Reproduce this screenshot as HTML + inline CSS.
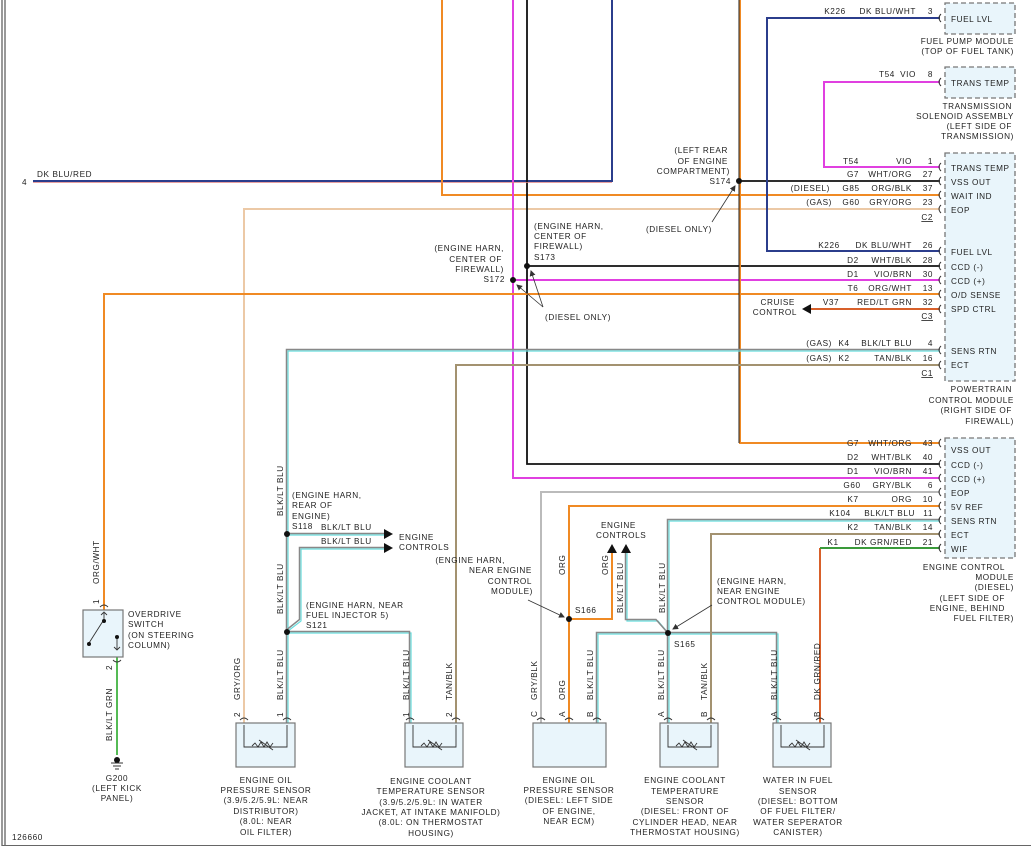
<!DOCTYPE html>
<html><head><meta charset="utf-8"><style>
html,body{margin:0;padding:0;background:#fff}
svg{display:block}
text{font-family:"Liberation Sans",sans-serif;font-size:8.2px;fill:#222;letter-spacing:0.6px}
.r{text-anchor:end}.m{text-anchor:middle}
</style></head><body>
<svg width="1031" height="848" viewBox="0 0 1031 848" xmlns="http://www.w3.org/2000/svg">
<defs>
<marker id="as" markerWidth="6" markerHeight="6" refX="5" refY="3" orient="auto" markerUnits="userSpaceOnUse"><path d="M0,0 L6,3 L0,6 z" fill="#333"/></marker>
</defs>
<line x1="2" y1="0" x2="2" y2="846" stroke="#333" stroke-width="1"/>
<line x1="5" y1="0" x2="5" y2="846" stroke="#333" stroke-width="1"/>
<line x1="2" y1="845.5" x2="1031" y2="845.5" stroke="#666" stroke-width="1"/>

<g fill="#e9f5fb" stroke="#777" stroke-width="1.3" stroke-dasharray="5,3">
<rect x="945" y="3" width="70" height="31"/>
<rect x="945" y="67" width="70" height="31"/>
<rect x="945" y="153" width="70" height="228"/>
<rect x="945" y="438" width="70" height="120"/>
</g>

<g fill="none" stroke-width="2">
<polyline points="33,181 612,181 612,0" stroke="#2b3d8c"/>
<polyline points="442,0 442,195 940,195" stroke="#f08a24"/>
<polyline points="244,723 244,209 940,209" stroke="#ecc9a6"/>
<polyline points="513,0 513,478 940,478" stroke="#e040e0"/>
<line x1="513" y1="280" x2="940" y2="280" stroke="#e040e0"/>
<polyline points="527,0 527,464 940,464" stroke="#111" stroke-width="1.8"/>
<line x1="527" y1="266" x2="940" y2="266" stroke="#111" stroke-width="1.8"/>
<polyline points="104,610 104,294 940,294" stroke="#f08a24"/>
<polyline points="740,0 740,443 940,443" stroke="#f08a24"/>
<line x1="739" y1="0" x2="739" y2="443" stroke="#222" stroke-width="1"/>
<line x1="740" y1="181" x2="940" y2="181" stroke="#111" stroke-width="1.8"/>
<polyline points="940,18 767,18 767,251 940,251" stroke="#2b3d8c"/>
<polyline points="940,82 824,82 824,167 940,167" stroke="#e040e0"/>
<line x1="808" y1="309" x2="940" y2="309" stroke="#d8602a"/>
<!-- gray/teal wires -->
<g stroke="#6dd" stroke-width="1.2">
<polyline points="288,723 288,351 940,351"/>
<polyline points="288,535 384,535"/>
<polyline points="288,631 301,621 301,549 384,549"/>
<polyline points="288,633 411,633 411,723"/>
<polyline points="669,723 669,521 940,521"/>
<polyline points="669,634 658,621 627,621 627,552"/>
<polyline points="598,723 598,634 778,634 778,723"/>
</g>
<g stroke="#888" stroke-width="1.5">
<polyline points="286.5,723 286.5,349.5 940,349.5"/>
<polyline points="287,533.5 384,533.5"/>
<polyline points="287,629.5 299.5,619.5 299.5,547.5 384,547.5"/>
<polyline points="287,631.5 409.5,631.5 409.5,723"/>
<polyline points="667.5,723 667.5,519.5 940,519.5"/>
<polyline points="667,632 656,619.5 625.5,619.5 625.5,552"/>
<polyline points="596.5,723 596.5,632.5 776.5,632.5 776.5,723"/>
</g>
<polyline points="456,723 456,365 940,365" stroke="#a39270"/>
<polyline points="541,723 541,492 940,492" stroke="#bbb"/>
<polyline points="569,723 569,506 940,506" stroke="#f08a24"/>
<polyline points="569,619 612,619 612,552" stroke="#f08a24"/>
<polyline points="711,723 711,534 940,534" stroke="#a39270"/>
<polyline points="820,723 820,548" stroke="#d8602a"/>
<line x1="820" y1="548" x2="940" y2="548" stroke="#3a9a3a"/>
<line x1="117" y1="657" x2="117" y2="755" stroke="#5b5"/>
</g>
<line x1="33" y1="182.5" x2="612" y2="182.5" stroke="#e08080" stroke-width="0.7"/>

<polygon points="384,529 393,534 384,539" fill="#111"/>
<polygon points="384,543 393,548 384,553" fill="#111"/>
<polygon points="607,553 612,544 617,553" fill="#111"/>
<polygon points="621,553 626,544 631,553" fill="#111"/>
<polygon points="811,304 802,309 811,314" fill="#111"/>

<g fill="none" stroke="#333" stroke-width="1">
<path d="M941,14 q-4,4 0,8"/><path d="M941,78 q-4,4 0,8"/>
<path d="M941,163 q-4,4 0,8"/><path d="M941,177 q-4,4 0,8"/><path d="M941,191 q-4,4 0,8"/><path d="M941,205 q-4,4 0,8"/>
<path d="M941,247 q-4,4 0,8"/><path d="M941,262 q-4,4 0,8"/><path d="M941,276 q-4,4 0,8"/><path d="M941,290 q-4,4 0,8"/><path d="M941,305 q-4,4 0,8"/>
<path d="M941,346 q-4,4 0,8"/><path d="M941,361 q-4,4 0,8"/>
<path d="M941,439 q-4,4 0,8"/><path d="M941,460 q-4,4 0,8"/><path d="M941,474 q-4,4 0,8"/><path d="M941,488 q-4,4 0,8"/><path d="M941,502 q-4,4 0,8"/><path d="M941,516 q-4,4 0,8"/><path d="M941,530 q-4,4 0,8"/><path d="M941,544 q-4,4 0,8"/>
</g>

<g fill="#111">
<circle cx="527" cy="266" r="3"/><circle cx="513" cy="280" r="3"/><circle cx="739" cy="181" r="3"/>
<circle cx="287" cy="534" r="3"/><circle cx="287" cy="632" r="3"/>
<circle cx="569" cy="619" r="3"/><circle cx="668" cy="633" r="3"/>
</g>
<g stroke="#333" stroke-width="0.8" fill="none">
<line x1="543" y1="307" x2="517" y2="285" marker-end="url(#as)"/>
<line x1="543" y1="307" x2="531" y2="271" marker-end="url(#as)"/>
<line x1="712" y1="222" x2="735" y2="186" marker-end="url(#as)"/>
<line x1="528" y1="600" x2="564" y2="617" marker-end="url(#as)"/>
<line x1="712" y1="605" x2="673" y2="629" marker-end="url(#as)"/>
</g>

<g fill="#e9f5fb" stroke="#777" stroke-width="1.2">
<rect x="83" y="610" width="40" height="47"/>
<rect x="236" y="723" width="59" height="44"/>
<rect x="405" y="723" width="58" height="44"/>
<rect x="533" y="723" width="73" height="44"/>
<rect x="660" y="723" width="58" height="44"/>
<rect x="773" y="723" width="58" height="44"/>
</g>
<g fill="none" stroke="#333" stroke-width="0.9">
<path d="M244,725 v22 h43 v-22"/><path d="M252,746 l3,-3 l3,4 l3,-5 l3,5 l3,-5 l3,5 l3,-4 M259,740 l14,10"/>
<path d="M413,725 v22 h43 v-22"/><path d="M421,746 l3,-3 l3,4 l3,-5 l3,5 l3,-5 l3,5 l3,-4 M428,740 l14,10"/>
<path d="M668,725 v22 h43 v-22"/><path d="M676,746 l3,-3 l3,4 l3,-5 l3,5 l3,-5 l3,5 l3,-4 M683,740 l14,10"/>
<path d="M781,725 v22 h43 v-22"/><path d="M789,746 l3,-3 l3,4 l3,-5 l3,5 l3,-5 l3,5 l3,-4 M796,740 l14,10"/>
<path d="M104,613 v8 M101,615 l3,-3 l3,3 M103,621 l-14,22 M117,638 v12 M114,647 l3,3 l3,-3"/>
<path d="M240,720 q4,-4 8,0 M283,720 q4,-4 8,0 M406,720 q4,-4 8,0 M452,720 q4,-4 8,0 M537,720 q4,-4 8,0 M565,720 q4,-4 8,0 M593,720 q4,-4 8,0 M664,720 q4,-4 8,0 M707,720 q4,-4 8,0 M773,720 q4,-4 8,0 M816,720 q4,-4 8,0 M100,607 q4,-4 8,0 M113,660 q4,4 8,0"/>
</g>
<circle cx="104" cy="621" r="2" fill="#111"/><circle cx="89" cy="644" r="2" fill="#111"/><circle cx="117" cy="637" r="2" fill="#111"/>
<circle cx="117" cy="760" r="3" fill="#111"/>
<g stroke="#333" stroke-width="1"><line x1="111" y1="763" x2="123" y2="763"/><line x1="113" y1="766" x2="121" y2="766"/><line x1="115" y1="769" x2="119" y2="769"/></g>

<text x="22" y="185">4</text><text x="37" y="177">DK BLU/RED</text>
<text x="835" y="14" class="m">K226</text><text x="916" y="14" class="r">DK BLU/WHT</text><text x="933" y="14" class="r">3</text>
<text x="951" y="22">FUEL LVL</text>
<text x="1014" y="44" class="r">FUEL PUMP MODULE</text><text x="1014" y="54" class="r">(TOP OF FUEL TANK)</text>
<text x="887" y="77" class="m">T54</text><text x="916" y="77" class="r">VIO</text><text x="933" y="77" class="r">8</text>
<text x="951" y="86">TRANS TEMP</text>
<text x="1012" y="109" class="r">TRANSMISSION</text><text x="1014" y="119" class="r">SOLENOID ASSEMBLY</text><text x="1012" y="129" class="r">(LEFT SIDE OF</text><text x="1014" y="139" class="r">TRANSMISSION)</text>

<text x="851" y="164" class="m">T54</text><text x="912" y="164" class="r">VIO</text><text x="933" y="164" class="r">1</text>
<text x="853" y="177" class="m">G7</text><text x="912" y="177" class="r">WHT/ORG</text><text x="933" y="177" class="r">27</text>
<text x="830" y="191" class="r">(DIESEL)</text><text x="851" y="191" class="m">G85</text><text x="912" y="191" class="r">ORG/BLK</text><text x="933" y="191" class="r">37</text>
<text x="832" y="205" class="r">(GAS)</text><text x="851" y="205" class="m">G60</text><text x="912" y="205" class="r">GRY/ORG</text><text x="933" y="205" class="r">23</text>
<text x="933" y="220" class="r" text-decoration="underline">C2</text>
<text x="951" y="171">TRANS TEMP</text><text x="951" y="185">VSS OUT</text><text x="951" y="199">WAIT IND</text><text x="951" y="213">EOP</text>
<text x="829" y="248" class="m">K226</text><text x="912" y="248" class="r">DK BLU/WHT</text><text x="933" y="248" class="r">26</text>
<text x="853" y="263" class="m">D2</text><text x="912" y="263" class="r">WHT/BLK</text><text x="933" y="263" class="r">28</text>
<text x="853" y="277" class="m">D1</text><text x="912" y="277" class="r">VIO/BRN</text><text x="933" y="277" class="r">30</text>
<text x="853" y="291" class="m">T6</text><text x="912" y="291" class="r">ORG/WHT</text><text x="933" y="291" class="r">13</text>
<text x="831" y="305" class="m">V37</text><text x="912" y="305" class="r">RED/LT GRN</text><text x="933" y="305" class="r">32</text>
<text x="933" y="319" class="r" text-decoration="underline">C3</text>
<text x="951" y="255">FUEL LVL</text><text x="951" y="270">CCD (-)</text><text x="951" y="284">CCD (+)</text><text x="951" y="298">O/D SENSE</text><text x="951" y="312">SPD CTRL</text>
<text x="795" y="305" class="r">CRUISE</text><text x="797" y="315" class="r">CONTROL</text>
<text x="832" y="346" class="r">(GAS)</text><text x="844" y="346" class="m">K4</text><text x="912" y="346" class="r">BLK/LT BLU</text><text x="933" y="346" class="r">4</text>
<text x="832" y="361" class="r">(GAS)</text><text x="844" y="361" class="m">K2</text><text x="912" y="361" class="r">TAN/BLK</text><text x="933" y="361" class="r">16</text>
<text x="933" y="376" class="r" text-decoration="underline">C1</text>
<text x="951" y="354">SENS RTN</text><text x="951" y="368">ECT</text>
<text x="1012" y="392" class="r">POWERTRAIN</text><text x="1014" y="403" class="r">CONTROL MODULE</text><text x="1012" y="413" class="r">(RIGHT SIDE OF</text><text x="1014" y="424" class="r">FIREWALL)</text>

<text x="728" y="153" class="r">(LEFT REAR</text><text x="728" y="164" class="r">OF ENGINE</text><text x="730" y="174" class="r">COMPARTMENT)</text><text x="731" y="184" class="r">S174</text>
<text x="712" y="232" class="r">(DIESEL ONLY)</text>
<text x="534" y="229">(ENGINE HARN,</text><text x="534" y="239">CENTER OF</text><text x="534" y="249">FIREWALL)</text><text x="534" y="260">S173</text>
<text x="504" y="251" class="r">(ENGINE HARN,</text><text x="502" y="262" class="r">CENTER OF</text><text x="504" y="272" class="r">FIREWALL)</text><text x="505" y="282" class="r">S172</text>
<text x="545" y="320">(DIESEL ONLY)</text>

<text x="853" y="446" class="m">G7</text><text x="912" y="446" class="r">WHT/ORG</text><text x="933" y="446" class="r">43</text>
<text x="853" y="460" class="m">D2</text><text x="912" y="460" class="r">WHT/BLK</text><text x="933" y="460" class="r">40</text>
<text x="853" y="474" class="m">D1</text><text x="912" y="474" class="r">VIO/BRN</text><text x="933" y="474" class="r">41</text>
<text x="852" y="488" class="m">G60</text><text x="912" y="488" class="r">GRY/BLK</text><text x="933" y="488" class="r">6</text>
<text x="853" y="502" class="m">K7</text><text x="912" y="502" class="r">ORG</text><text x="933" y="502" class="r">10</text>
<text x="840" y="516" class="m">K104</text><text x="915" y="516" class="r">BLK/LT BLU</text><text x="933" y="516" class="r">11</text>
<text x="853" y="530" class="m">K2</text><text x="912" y="530" class="r">TAN/BLK</text><text x="933" y="530" class="r">14</text>
<text x="833" y="545" class="m">K1</text><text x="912" y="545" class="r">DK GRN/RED</text><text x="933" y="545" class="r">21</text>
<text x="951" y="453">VSS OUT</text><text x="951" y="468">CCD (-)</text><text x="951" y="482">CCD (+)</text><text x="951" y="496">EOP</text><text x="951" y="510">5V REF</text><text x="951" y="524">SENS RTN</text><text x="951" y="538">ECT</text><text x="951" y="552">WIF</text>
<text x="1005" y="570" class="r">ENGINE CONTROL</text><text x="1014" y="580" class="r">MODULE</text><text x="1014" y="590" class="r">(DIESEL)</text><text x="1005" y="601" class="r">(LEFT SIDE OF</text><text x="1005" y="611" class="r">ENGINE, BEHIND</text><text x="1014" y="621" class="r">FUEL FILTER)</text>

<text x="292" y="498">(ENGINE HARN,</text><text x="292" y="508">REAR OF</text><text x="292" y="519">ENGINE)</text><text x="292" y="529">S118</text>
<text x="321" y="530">BLK/LT BLU</text><text x="321" y="544">BLK/LT BLU</text>
<text x="399" y="540">ENGINE</text><text x="399" y="550">CONTROLS</text>
<text x="306" y="608">(ENGINE HARN, NEAR</text><text x="306" y="618">FUEL INJECTOR 5)</text><text x="306" y="628">S121</text>
<text x="505" y="563" class="r">(ENGINE HARN,</text><text x="532" y="573" class="r">NEAR ENGINE</text><text x="532" y="584" class="r">CONTROL</text><text x="533" y="594" class="r">MODULE)</text>
<text x="575" y="613">S166</text><text x="674" y="647">S165</text>
<text x="601" y="528">ENGINE</text><text x="596" y="538">CONTROLS</text>
<text x="717" y="584">(ENGINE HARN,</text><text x="717" y="594">NEAR ENGINE</text><text x="717" y="604">CONTROL MODULE)</text>

<g>
<text transform="translate(99,584) rotate(-90)">ORG/WHT</text>
<text transform="translate(99,604) rotate(-90)">1</text>
<text transform="translate(112,741) rotate(-90)">BLK/LT GRN</text>
<text transform="translate(112,670) rotate(-90)">2</text>
<text transform="translate(283,516) rotate(-90)">BLK/LT BLU</text>
<text transform="translate(283,614) rotate(-90)">BLK/LT BLU</text>
<text transform="translate(240,700) rotate(-90)">GRY/ORG</text>
<text transform="translate(240,717) rotate(-90)">2</text>
<text transform="translate(283,700) rotate(-90)">BLK/LT BLU</text>
<text transform="translate(283,717) rotate(-90)">1</text>
<text transform="translate(409,700) rotate(-90)">BLK/LT BLU</text>
<text transform="translate(409,717) rotate(-90)">1</text>
<text transform="translate(452,700) rotate(-90)">TAN/BLK</text>
<text transform="translate(452,717) rotate(-90)">2</text>
<text transform="translate(537,700) rotate(-90)">GRY/BLK</text>
<text transform="translate(537,717) rotate(-90)">C</text>
<text transform="translate(565,700) rotate(-90)">ORG</text>
<text transform="translate(565,717) rotate(-90)">A</text>
<text transform="translate(593,700) rotate(-90)">BLK/LT BLU</text>
<text transform="translate(593,717) rotate(-90)">B</text>
<text transform="translate(565,575) rotate(-90)">ORG</text>
<text transform="translate(608,575) rotate(-90)">ORG</text>
<text transform="translate(623,613) rotate(-90)">BLK/LT BLU</text>
<text transform="translate(665,613) rotate(-90)">BLK/LT BLU</text>
<text transform="translate(664,700) rotate(-90)">BLK/LT BLU</text>
<text transform="translate(664,717) rotate(-90)">A</text>
<text transform="translate(707,700) rotate(-90)">TAN/BLK</text>
<text transform="translate(707,717) rotate(-90)">B</text>
<text transform="translate(777,700) rotate(-90)">BLK/LT BLU</text>
<text transform="translate(777,717) rotate(-90)">A</text>
<text transform="translate(820,700) rotate(-90)">DK GRN/RED</text>
<text transform="translate(820,717) rotate(-90)">B</text>
</g>

<text x="128" y="617">OVERDRIVE</text><text x="128" y="627">SWITCH</text><text x="128" y="638">(ON STEERING</text><text x="128" y="648">COLUMN)</text>
<text x="117" y="781" class="m">G200</text><text x="117" y="791" class="m">(LEFT KICK</text><text x="117" y="801" class="m">PANEL)</text>
<text x="12" y="840">126660</text>
<text x="266" y="783" class="m">ENGINE OIL</text><text x="266" y="793" class="m">PRESSURE SENSOR</text><text x="266" y="803" class="m">(3.9/5.2/5.9L: NEAR</text><text x="266" y="814" class="m">DISTRIBUTOR)</text><text x="266" y="824" class="m">(8.0L: NEAR</text><text x="266" y="835" class="m">OIL FILTER)</text>
<text x="431" y="784" class="m">ENGINE COOLANT</text><text x="431" y="794" class="m">TEMPERATURE SENSOR</text><text x="431" y="805" class="m">(3.9/5.2/5.9L: IN WATER</text><text x="431" y="815" class="m">JACKET, AT INTAKE MANIFOLD)</text><text x="431" y="825" class="m">(8.0L: ON THERMOSTAT</text><text x="431" y="836" class="m">HOUSING)</text>
<text x="569" y="783" class="m">ENGINE OIL</text><text x="569" y="793" class="m">PRESSURE SENSOR</text><text x="569" y="803" class="m">(DIESEL: LEFT SIDE</text><text x="569" y="814" class="m">OF ENGINE,</text><text x="569" y="824" class="m">NEAR ECM)</text>
<text x="685" y="783" class="m">ENGINE COOLANT</text><text x="685" y="794" class="m">TEMPERATURE</text><text x="685" y="804" class="m">SENSOR</text><text x="685" y="814" class="m">(DIESEL: FRONT OF</text><text x="685" y="825" class="m">CYLINDER HEAD, NEAR</text><text x="685" y="835" class="m">THERMOSTAT HOUSING)</text>
<text x="798" y="783" class="m">WATER IN FUEL</text><text x="798" y="794" class="m">SENSOR</text><text x="798" y="804" class="m">(DIESEL: BOTTOM</text><text x="798" y="814" class="m">OF FUEL FILTER/</text><text x="798" y="825" class="m">WATER SEPERATOR</text><text x="798" y="835" class="m">CANISTER)</text>
</svg>
</body></html>
